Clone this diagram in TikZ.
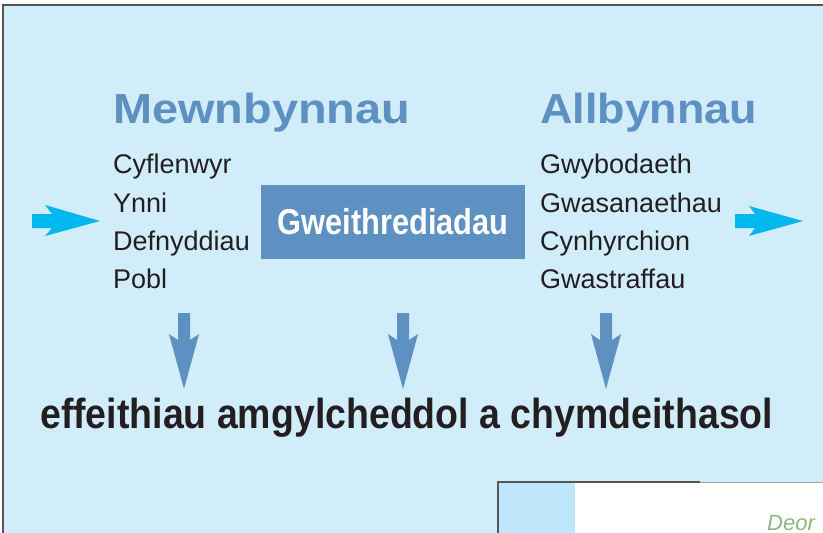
\documentclass[tikz,border=0pt]{standalone}
\usepackage{fontspec}
\setmainfont{Liberation Sans}
\usepackage{graphicx}
\definecolor{bgblue}{HTML}{D1EDFA}
\definecolor{steel}{HTML}{5E90C2}
\definecolor{cyanarrow}{HTML}{00B8EE}
\definecolor{darktext}{HTML}{231F20}
\definecolor{framegray}{HTML}{555555}
\definecolor{paleblue}{HTML}{BEE6FA}
\definecolor{penGreen}{HTML}{8DB87A}
\tikzset{
  heading/.style={anchor=base west, inner sep=0pt, text=steel, font=\fontsize{42}{42}\selectfont\bfseries},
  listitem/.style={anchor=base west, inner sep=0pt, text=darktext, font=\fontsize{27}{27}\selectfont},
  procbox/.style={fill=steel, draw=none, minimum width=264pt, minimum height=74pt, inner sep=0pt, text=white, font=\fontsize{36}{36}\selectfont\bfseries},
  effect/.style={anchor=base west, inner sep=0pt, text=darktext, font=\fontsize{42}{42}\selectfont\bfseries},
  cyanblock/.style={fill=cyanarrow, draw=none},
  blueblock/.style={fill=steel, draw=none},
  frameline/.style={draw=framegray, line width=1.3pt}
}
\begin{document}
\begin{tikzpicture}[x=1pt,y=-1pt]
\useasboundingbox (0,0) rectangle (823,533);
\fill[white] (0,0) rectangle (823,533);
\fill[bgblue] (3,5) rectangle (823,533);
\draw[frameline] (3,533) -- (3,5) -- (823,5);

% headings
\node[heading] (inhead) at (113,123) {\resizebox{297pt}{\height}{Mewnbynnau}};
\node[heading] (outhead) at (540,123) {\resizebox{217pt}{\height}{Allbynnau}};

% input list
\node[listitem] (in1) at (113,173) {Cyflenwyr};
\node[listitem] (in2) at (113,212) {Ynni};
\node[listitem] (in3) at (113,250) {Defnyddiau};
\node[listitem] (in4) at (113,288) {Pobl};

% output list
\node[listitem] (out1) at (540,173) {Gwybodaeth};
\node[listitem] (out2) at (540,212) {Gwasanaethau};
\node[listitem] (out3) at (540,250) {Cynhyrchion};
\node[listitem] (out4) at (540,288) {Gwastraffau};

% process box
\node[procbox] (proc) at (393,222) {\resizebox{231pt}{\height}{Gweithrediadau}};

% cyan arrows
\coordinate (lt) at (100,221);
\coordinate (rt) at (803,221);
\fill[cyanblock] (32,214) -- (52,214) -- (45,205) -- (lt) -- (45,236) -- (52,228) -- (32,228) -- cycle;
\fill[cyanblock] (735,214) -- (755,214) -- (749,206) -- (rt) -- (749,236) -- (755,228) -- (735,228) -- cycle;

% blue down arrows
\foreach \c/\n in {184/a1,403/a2,606/a3}{
  \coordinate (\n) at (\c,389);
  \fill[blueblock] (\c-6,313) -- (\c+6,313) -- (\c+6,340) -- (\c+15,334) -- (\n) -- (\c-15,334) -- (\c-6,340) -- cycle;
}

% bottom text
\node[effect] (eff) at (40,428) {\resizebox{733pt}{\height}{effeithiau amgylcheddol a chymdeithasol}};

% cropped picture at bottom right
\fill[white] (498,482) rectangle (823,533);
\fill[paleblue] (498,482) rectangle (575,533);
\draw[draw=framegray, line width=1.3pt] (498,533) -- (498,482) -- (700,482);
\draw[draw=gray!70, line width=0.6pt] (700,482) -- (823,482);
\begin{scope}
\clip (575,483) rectangle (823,533);
\node[anchor=base west, inner sep=0pt, text=penGreen, font=\fontsize{22}{22}\selectfont\itshape] (deor) at (767,530) {Deor};
\end{scope}
\end{tikzpicture}
\end{document}
